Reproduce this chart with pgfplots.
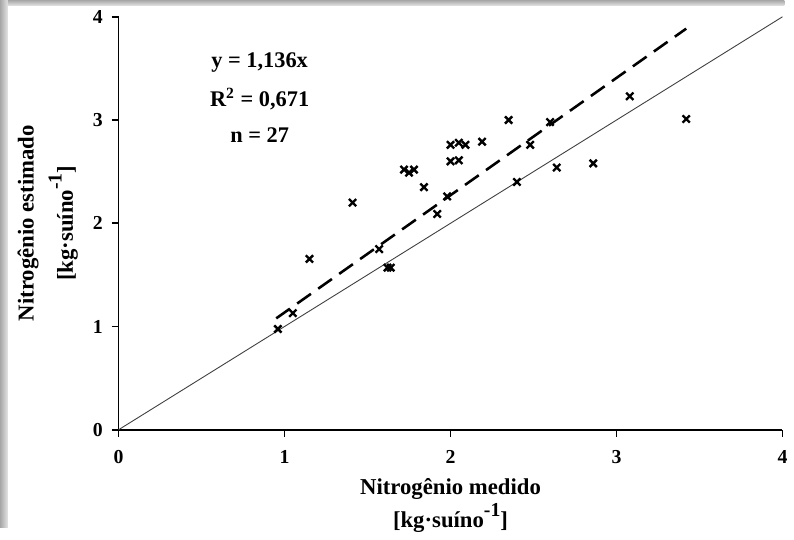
\documentclass[border=0pt]{standalone}
\usepackage{pgfplots}
\pgfplotsset{compat=1.18}
\usepackage{fontspec}
\setmainfont{Liberation Serif}
\newcommand\supr[1]{\raisebox{0.5em}{\fontsize{10}{10}\selectfont\bfseries #1}}
\begin{document}
\begin{tikzpicture}
\fill[white] (-60pt,-49.5pt) rectangle (337pt,217.5pt);
\shade[left color=gray!70, right color=gray!20] (-60pt,-49.5pt) rectangle (-56pt,217.5pt);
\shade[top color=gray!70, bottom color=gray!20] (-56pt,214.5pt) rectangle (337pt,217.5pt);
\begin{axis}[
  at={(0,0)}, anchor=origin,
  scale only axis, width=336pt, height=209pt,
  xmin=0, xmax=4, ymin=0, ymax=4,
  xtick={0,1,2,3,4}, ytick={0,1,2,3,4},
  axis x line=bottom, axis y line=left,
  axis line style={line width=0.9pt, -},
  tick style={line width=0.9pt, black},
  tick align=outside, major tick length=3.5pt,
  /pgf/number format/assume math mode=true,
  ticklabel style={font=\fontsize{10}{11}\selectfont\bfseries},
  xticklabel style={yshift=-3.5pt},
  yticklabel style={xshift=-1pt},
  label style={font=\fontsize{11.5}{13}\selectfont\bfseries, align=center},
  xlabel={Nitrogênio medido\\[1pt]{[}kg·suíno\supr{-1}{]}},
  ylabel={Nitrogênio estimado\\[4pt]{[}kg·suíno\supr{-1}{]}},
  xlabel style={at={(axis description cs:0.5,0)}, anchor=north, yshift=-21pt},
  ylabel style={at={(axis description cs:0,0.5)}, anchor=south, yshift=17pt},
  clip=false,
]
\addplot[color=black!75, line width=0.45pt] coordinates {(0,0) (4,4)};
\addplot[black, line width=1.3pt, dash pattern=on 8.5pt off 4.5pt] coordinates {(0.95,1.0792) (3.42,3.8851)};
\addplot[only marks, mark=x, mark size=2.6pt, mark options={line width=1.2pt, black}] coordinates {
(0.96,0.976) (1.05,1.13) (1.15,1.655) (1.41,2.20) (1.57,1.75)
(1.62,1.57) (1.64,1.57) (1.72,2.52) (1.75,2.49) (1.78,2.52)
(1.84,2.35) (1.92,2.09) (1.98,2.26) (2.00,2.60) (2.05,2.61)
(2.00,2.76) (2.05,2.78) (2.09,2.76) (2.19,2.79) (2.35,3.00)
(2.48,2.76) (2.40,2.40) (2.60,2.98) (2.64,2.54) (2.86,2.58)
(3.08,3.23) (3.42,3.01)};
\node[font=\fontsize{11.3}{12}\selectfont\bfseries] at (axis cs:0.85,3.56) {y = 1,136x};
\node[font=\fontsize{11.3}{12}\selectfont\bfseries] at (axis cs:0.85,3.20) {R\textsuperscript{2} = 0,671};
\node[font=\fontsize{11.3}{12}\selectfont\bfseries] at (axis cs:0.85,2.85) {n = 27};
\end{axis}
\useasboundingbox (-60pt,-49.5pt) rectangle (337pt,217.5pt);
\end{tikzpicture}
\end{document}
